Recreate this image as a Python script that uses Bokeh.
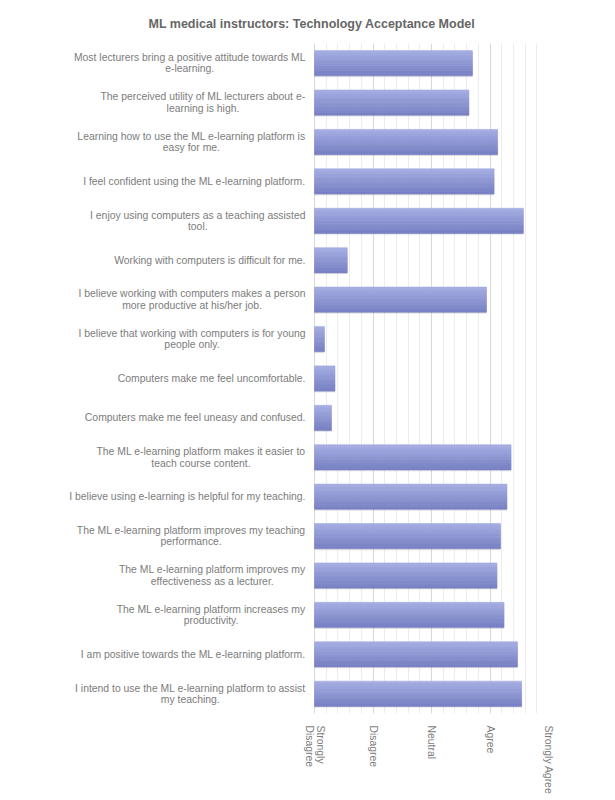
import numpy as np
from bokeh.plotting import figure
from bokeh.models import ColumnDataSource, FactorRange, Range1d, FixedTicker
from bokeh.core.properties import value
from bokeh.transform import dodge
from bokeh.embed import file_html
from bokeh.resources import INLINE

title_text = "ML medical instructors: Technology Acceptance Model"

statements = [
    "Most lecturers bring a positive attitude towards ML\ne-learning.",
    "The perceived utility of ML lecturers about e-\nlearning is high.",
    "Learning how to use the ML e-learning platform is\neasy for me.",
    "I feel confident using the ML e-learning platform.",
    "I enjoy using computers as a teaching assisted\ntool.",
    "Working with computers is difficult for me.",
    "I believe working with computers makes a person\nmore productive at his/her job.",
    "I believe that working with computers is for young\npeople only.",
    "Computers make me feel uncomfortable.",
    "Computers make me feel uneasy and confused.",
    "The ML e-learning platform makes it easier to\nteach course content.",
    "I believe using e-learning is helpful for my teaching.",
    "The ML e-learning platform improves my teaching\nperformance.",
    "The ML e-learning platform improves my\neffectiveness as a lecturer.",
    "The ML e-learning platform increases my\nproductivity.",
    "I am positive towards the ML e-learning platform.",
    "I intend to use the ML e-learning platform to assist\nmy teaching.",
]
scores = [3.70, 3.64, 4.13, 4.07, 4.57, 1.56, 3.94, 1.17, 1.35, 1.29,
          4.36, 4.29, 4.18, 4.12, 4.24, 4.47, 4.54]

scale_values = [1, 2, 3, 4, 5]
scale_labels = ["Strongly\nDisagree", "Disagree", "Neutral", "Agree", "Strongly Agree"]

FONT = "Liberation Sans"
TEXT = "#7c7c7c"

# layout (pixels)
unit_px = 58.5          # width of one scale step
label_area = 314        # space left of the scale start for the statements
x_start = scale_values[0] - label_area / unit_px
frame_w = int(round((scale_values[-1] - x_start) * unit_px))

src = ColumnDataSource(dict(cat=statements, score=scores,
                            base=[scale_values[0]] * len(scores)))

p = figure(
    frame_width=frame_w, frame_height=670,
    x_range=Range1d(x_start, scale_values[-1]),
    y_range=FactorRange(factors=list(reversed(statements))),
    output_backend="svg", toolbar_location=None,
    min_border_left=0, min_border_right=50, min_border_top=43, min_border_bottom=70,
)
p.outline_line_color = None
p.background_fill_color = "white"

# title
p.title.text = title_text
p.title.text_font = FONT
p.title.text_font_size = "12.5px"
p.title.text_color = "#666666"
p.title.align = "left"
p.title.offset = 148
p.title.standoff = 26

# grid
p.ygrid.grid_line_color = None
p.xgrid.grid_line_color = "#d9d9d9"
p.xgrid.minor_grid_line_color = "#ececec"

# bars: soft shadow + vertical gradient bands
bar_h = 0.64
p.hbar(y=dodge("cat", -0.035, range=p.y_range), left="base", right="score",
       height=bar_h, source=src, fill_color="#000000", fill_alpha=0.10, line_color=None)
top = np.array([0xa4, 0xad, 0xe2])
bot = np.array([0x79, 0x82, 0xc4])
n = 10
bh = bar_h / n
for k in range(n):
    t = k / (n - 1)
    c = (top * (1 - t) + bot * t).astype(int)
    col = "#%02x%02x%02x" % tuple(c)
    off = bar_h / 2 - (k + 0.5) * bh
    p.hbar(y=dodge("cat", off, range=p.y_range), left="base", right="score",
           height=bh, source=src, fill_color=col, line_color=col, line_width=0.6)

# statement labels (centered lines, right-anchored block)
p.text(x="base", y="cat", text="cat", source=src, x_offset=-9,
       anchor="center_right", text_align="center", text_baseline="middle",
       text_font=value(FONT), text_font_size="10.4px", text_color=TEXT,
       text_line_height=1.05)

# x axis
minor = [float(v) for v in np.arange(scale_values[0], scale_values[-1], 0.2)]
p.xaxis.ticker = FixedTicker(ticks=scale_values, minor_ticks=minor)
p.xaxis.major_label_overrides = {v: l for v, l in zip(scale_values, scale_labels)}
p.xaxis.major_label_orientation = -np.pi / 2
p.xaxis.axis_line_color = None
p.xaxis.major_tick_line_color = None
p.xaxis.minor_tick_line_color = None
p.xaxis.major_label_standoff = 6
p.xaxis.major_label_text_font = FONT
p.xaxis.major_label_text_font_size = "10.4px"
p.xaxis.major_label_text_color = TEXT
p.xaxis.major_label_text_line_height = 1.0

p.yaxis.visible = False

open("out.html", "w").write(file_html(p, INLINE))
